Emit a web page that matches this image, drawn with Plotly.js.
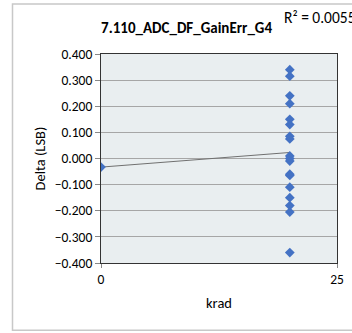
<!DOCTYPE html>
<html>
<head>
<meta charset="utf-8">
<script src="https://cdn.plot.ly/plotly-3.0.1.min.js"></script>
<style>html,body{margin:0;padding:0;background:#fff;}#chart{width:352px;height:333px;}</style>
</head>
<body>
<div id="chart"></div>
<script>
var xTicks = [0, 25];
var krad = [0, 20,20,20,20,20,20,20,20,20,20,20,20,20,20,20,20,20,20];
var delta = [-0.033, 0.340, 0.315, 0.240, 0.210, 0.150, 0.130, 0.085, 0.075, 0.010, 0.000, -0.010, -0.060, -0.065, -0.110, -0.150, -0.180, -0.205, -0.360];
var titleText = "7.110_ADC_DF_GainErr_G4";
var r2Text = "R² = 0.0055";

// linear regression trendline computed from data
var n = Math.min(krad.length, delta.length), sx = 0, sy = 0, sxx = 0, sxy = 0;
for (var i = 0; i < n; i++) { sx += krad[i]; sy += delta[i]; sxx += krad[i]*krad[i]; sxy += krad[i]*delta[i]; }
var slope = (n*sxy - sx*sy) / (n*sxx - sx*sx);
var intercept = (sy - slope*sx) / n;
var xMin = Math.min.apply(null, krad), xMax = Math.max.apply(null, krad);
var trendX = [xMin, xMax];
var trendY = [intercept + slope*xMin, intercept + slope*xMax];

var font = "Carlito, Liberation Sans, Arial, sans-serif";
var data = [
  {x: trendX, y: trendY, mode: 'lines', line: {color: '#707070', width: 1}, hoverinfo: 'skip'},
  {x: krad, y: delta, mode: 'markers', marker: {symbol: 'diamond', size: 7.5, color: '#4472C4'}}
];
var layout = {
  width: 352, height: 333,
  margin: {l: 101, r: 15, t: 54, b: 70},
  paper_bgcolor: '#ffffff',
  plot_bgcolor: '#e9eef0',
  showlegend: false,
  font: {family: font, size: 13, color: '#000'},
  title: {text: '<b>' + titleText + '</b>', font: {family: font, size: 15, color: '#000'},
          x: 0.53, xanchor: 'center', y: 0.918, yanchor: 'middle', xref: 'container', yref: 'container'},
  xaxis: {range: [0, 25], tickvals: xTicks, ticktext: xTicks.map(String), showgrid: false, zeroline: false,
          ticks: 'outside', ticklen: 4, tickcolor: '#888', showline: true, linecolor: '#333', linewidth: 1, mirror: true,
          tickfont: {size: 13.5},
          title: {text: 'krad', font: {size: 14.5}, standoff: 10}},
  yaxis: {range: [-0.4, 0.4], dtick: 0.1, tick0: 0, tickformat: '.3f', showgrid: true, gridcolor: '#a6a6a6', gridwidth: 1,
          zeroline: false, ticks: 'outside', ticklen: 5, tickcolor: '#888', showline: true, linecolor: '#333', linewidth: 1, mirror: true,
          tickfont: {size: 13.5},
          title: {text: 'Delta (LSB)', font: {size: 14.5}, standoff: 5}},
  annotations: [{text: r2Text, xref: 'paper', yref: 'paper', x: (282-101)/236, y: (263-17)/209.5,
                 xanchor: 'left', yanchor: 'middle', showarrow: false, font: {size: 15.5, color: '#000'}}],
  shapes: [{type: 'rect', xref: 'paper', yref: 'paper', x0: (12.5-101)/236, x1: 1.2, y0: (263-330.5)/209.5, y1: (263-3.5)/209.5,
            line: {color: '#c8c8c8', width: 1.5}, fillcolor: 'rgba(0,0,0,0)', layer: 'below'}]
};
Plotly.newPlot('chart', data, layout, {staticPlot: true});
</script>
</body>
</html>
